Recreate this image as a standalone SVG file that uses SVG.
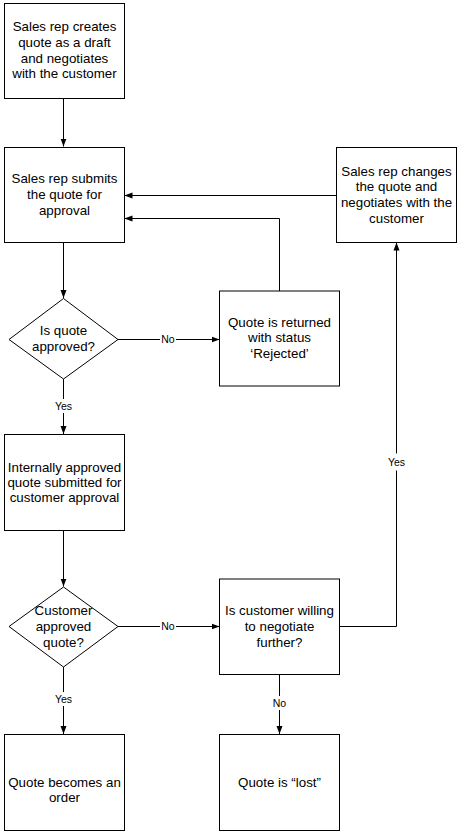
<svg xmlns="http://www.w3.org/2000/svg" width="462" height="835" viewBox="0 0 462 835">
<style>
.box{fill:#fff;stroke:#000;stroke-width:1}
.t{font-family:"Liberation Sans",Arial,sans-serif;font-size:13.33px;fill:#000;text-anchor:middle}
.lbl{font-family:"Liberation Sans",Arial,sans-serif;font-size:10.5px;fill:#000;text-anchor:middle}
.c{fill:none;stroke:#000;stroke-width:1}
.a{marker-end:url(#arr)}
</style>
<defs>
<marker id="arr" viewBox="0 0 8 8" refX="8" refY="4" markerWidth="8" markerHeight="8" markerUnits="userSpaceOnUse" orient="auto">
<path d="M0,1 L8,4 L0,7 Z" fill="#000"/>
</marker>
</defs>
<rect width="462" height="835" fill="#fff"/>
<g id="connectors">
<path class="c a" d="M63.5,98.5 V146.5"/>
<path class="c a" d="M63.5,242.5 V298"/>
<path class="c" d="M118,339.5 H160"/>
<path class="c a" d="M176,339.5 H219.5"/>
<path class="c" d="M63.5,379 V399"/>
<path class="c a" d="M63.5,413 V434"/>
<path class="c a" d="M279.5,291 V218.5 H124.5"/>
<path class="c a" d="M336.5,195.5 H124.5"/>
<path class="c a" d="M63.5,530.5 V586.5"/>
<path class="c" d="M118,626.5 H160"/>
<path class="c a" d="M176,626.5 H219.5"/>
<path class="c" d="M63.5,667 V692"/>
<path class="c a" d="M63.5,706 V734"/>
<path class="c" d="M339.5,626.5 H396.5 V470.5"/>
<path class="c a" d="M396.5,453.5 V242.5"/>
<path class="c" d="M279.5,674.5 V696"/>
<path class="c a" d="M279.5,710 V734"/>
<text class="lbl" x="168" y="343">No</text>
<text class="lbl" x="63.5" y="410">Yes</text>
<text class="lbl" x="168" y="630">No</text>
<text class="lbl" x="63.5" y="703">Yes</text>
<text class="lbl" x="396.5" y="466">Yes</text>
<text class="lbl" x="279.5" y="707">No</text>
</g>
<g id="n1">
<rect class="box" x="4.5" y="3.5" width="120" height="95"/>
<text class="t"><tspan x="64.5" y="31">Sales rep creates</tspan><tspan x="64.5" y="47">quote as a draft</tspan><tspan x="64.5" y="62.7">and negotiates</tspan><tspan x="64.5" y="78.3">with the customer</tspan></text>
</g>
<g id="n2">
<rect class="box" x="4.5" y="147.5" width="120" height="95"/>
<text class="t"><tspan x="64.5" y="183">Sales rep submits</tspan><tspan x="64.5" y="199">the quote for</tspan><tspan x="64.5" y="215">approval</tspan></text>
</g>
<g id="n3">
<rect class="box" x="336.5" y="147.5" width="120" height="95"/>
<text class="t"><tspan x="396.5" y="175.5">Sales rep changes</tspan><tspan x="396.5" y="191.3">the quote and</tspan><tspan x="396.5" y="207.1">negotiates with the</tspan><tspan x="396.5" y="223">customer</tspan></text>
</g>
<g id="d1">
<polygon class="box" points="9,339.5 63.5,298.5 118,339.5 63.5,379"/>
<text class="t"><tspan x="63.5" y="334.8">Is quote</tspan><tspan x="63.5" y="350.8">approved?</tspan></text>
</g>
<g id="n4">
<rect class="box" x="219.5" y="291" width="120" height="95"/>
<text class="t"><tspan x="279.5" y="326.5">Quote is returned</tspan><tspan x="279.5" y="342.3">with status</tspan><tspan x="279.5" y="358.1">‘Rejected’</tspan></text>
</g>
<g id="n5">
<rect class="box" x="4.5" y="434.5" width="120" height="96"/>
<text class="t"><tspan x="64.5" y="471.5">Internally approved</tspan><tspan x="64.5" y="486.5">quote submitted for</tspan><tspan x="64.5" y="501.5">customer approval</tspan></text>
</g>
<g id="d2">
<polygon class="box" points="9,626.5 63.5,587 118,626.5 63.5,667"/>
<text class="t"><tspan x="63.5" y="614.8">Customer</tspan><tspan x="63.5" y="630.8">approved</tspan><tspan x="63.5" y="646.5">quote?</tspan></text>
</g>
<g id="n6">
<rect class="box" x="219.5" y="579" width="120" height="95.5"/>
<text class="t"><tspan x="279.5" y="614.8">Is customer willing</tspan><tspan x="279.5" y="630.8">to negotiate</tspan><tspan x="279.5" y="646.5">further?</tspan></text>
</g>
<g id="n7">
<rect class="box" x="4.5" y="734.5" width="120" height="96"/>
<text class="t"><tspan x="64.5" y="786.5">Quote becomes an</tspan><tspan x="64.5" y="802">order</tspan></text>
</g>
<g id="n8">
<rect class="box" x="219.5" y="734.5" width="120" height="96"/>
<text class="t"><tspan x="279.5" y="786.5">Quote is “lost”</tspan></text>
</g>
</svg>
